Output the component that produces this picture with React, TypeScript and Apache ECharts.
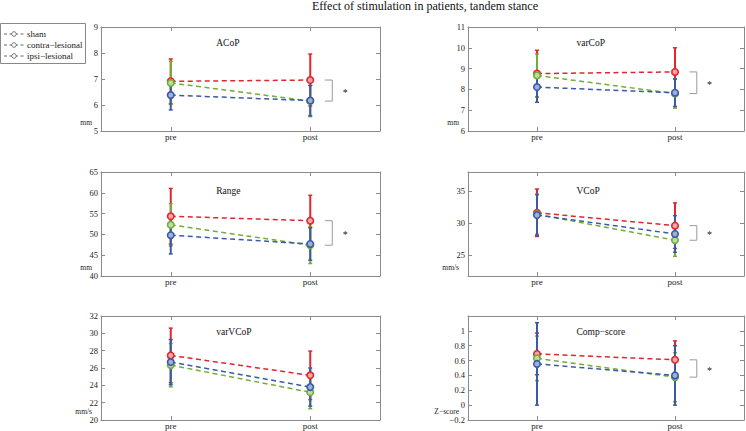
import React, { useEffect, useRef } from 'react';
import * as echarts from 'echarts';

const categories = ['pre', 'post'];
const panelTitles = ['ACoP', 'varCoP', 'Range', 'VCoP', 'varVCoP', 'Comp\u2212score'];
const unitLabels = ['mm', 'mm', 'mm', 'mm/s', 'mm/s', 'Z\u2212score'];
const yMins = [5, 6, 40, 21.8, 20, -0.2];
const yMaxs = [9, 11, 65, 38, 32, 1.2];
const yTicks = [
  [5, 6, 7, 8, 9],
  [6, 7, 8, 9, 10, 11],
  [40, 45, 50, 55, 60, 65],
  [25, 30, 35],
  [20, 22, 24, 26, 28, 30, 32],
  [-0.2, 0, 0.2, 0.4, 0.6, 0.8, 1],
];
const groupNames = ['sham', 'contra\u2212lesional', 'ipsi\u2212lesional'];

// means per panel: [pre, post]
const shamPre = [6.91, 8.76, 54.35, 31.65, 27.45, 0.69];
const shamPost = [6.96, 8.84, 53.3, 29.64, 25.15, 0.61];
const shamErrPre = [0.86, 1.12, 6.7, 3.7, 3.15, 0.28];
const shamErrPost = [1.0, 1.16, 6.1, 3.55, 2.8, 0.255];

const contraPre = [6.38, 8.11, 49.8, 31.3, 26.68, 0.555];
const contraPost = [6.17, 7.84, 47.7, 28.35, 23.8, 0.4];
const contraErrPre = [0.57, 0.73, 4.5, 3.2, 2.6, 0.555];
const contraErrPost = [0.58, 0.66, 3.9, 2.85, 2.2, 0.4];

const ipsiPre = [6.85, 8.67, 52.3, 31.4, 26.33, 0.63];
const ipsiPost = [6.15, 7.8, 47.4, 27.37, 23.2, 0.377];
const ipsiErrPre = [0.83, 1.03, 5.1, 3.1, 2.5, 0.3];
const ipsiErrPost = [0.6, 0.7, 4.4, 2.5, 1.9, 0.33];

const significant = [true, true, true, true, false, true];

const FONT = '"Liberation Serif", "DejaVu Serif", "Times New Roman", serif';
const colLeft = [101, 468];
const colWidth = [279, 276];
const rowTop = [27, 172, 316];
const panelH = 104;
const titleOffsetY = [16, 18.5, 16];
const titleFracX = [0.413, 0.393];
const AXIS_COLOR = '#8a8a8a';

const groups = [
  { name: groupNames[0], color: '#e0262e', tint: '#f2a6a8', pre: shamPre, post: shamPost, ePre: shamErrPre, ePost: shamErrPost },
  { name: groupNames[2], color: '#72ad3a', tint: '#bcdca0', pre: ipsiPre, post: ipsiPost, ePre: ipsiErrPre, ePost: ipsiErrPost },
  { name: groupNames[1], color: '#3a5aa8', tint: '#9fb0d8', pre: contraPre, post: contraPost, ePre: contraErrPre, ePost: contraErrPost },
];

function fmt(v: number) {
  const s = String(Math.round(v * 1000) / 1000);
  return s.replace('-', '\u2212');
}

function buildOption() {
  const grid: any[] = [];
  const xAxis: any[] = [];
  const yAxis: any[] = [];
  const series: any[] = [];
  const graphic: any[] = [];

  for (let i = 0; i < 6; i++) {
    const col = i % 2;
    const row = Math.floor(i / 2);
    const left = colLeft[col];
    const top = rowTop[row];
    const width = colWidth[col];
    grid.push({ left, top, width, height: panelH, containLabel: false });

    const xBase = {
      type: 'category',
      data: categories,
      gridIndex: i,
      boundaryGap: true,
      axisLine: { show: true, onZero: false, lineStyle: { color: AXIS_COLOR, width: 1 } },
      axisTick: { show: true, inside: true, alignWithLabel: true, length: 4, lineStyle: { color: AXIS_COLOR } },
      splitLine: { show: false },
    };
    xAxis.push({
      ...xBase,
      position: 'bottom',
      axisLabel: { show: true, fontFamily: FONT, fontSize: 9, color: '#222', margin: 1 },
    });
    xAxis.push({ ...xBase, position: 'top', axisLabel: { show: false } });

    const yBase = {
      type: 'value',
      gridIndex: i,
      min: yMins[i],
      max: yMaxs[i],
      axisLine: { show: true, onZero: false, lineStyle: { color: AXIS_COLOR, width: 1 } },
      axisTick: { show: true, inside: true, length: 4, customValues: yTicks[i], lineStyle: { color: AXIS_COLOR } },
      splitLine: { show: false },
    };
    yAxis.push({
      ...yBase,
      position: 'left',
      axisLabel: { show: true, customValues: yTicks[i], formatter: (v: number) => fmt(v), fontFamily: FONT, fontSize: 8.5, color: '#222', margin: 3 },
    });
    yAxis.push({ ...yBase, position: 'right', axisLabel: { show: false } });

    groups.forEach((g) => {
      const means = [g.pre[i], g.post[i]];
      const errs = [g.ePre[i], g.ePost[i]];
      series.push({
        type: 'custom',
        name: g.name,
        xAxisIndex: 2 * i,
        yAxisIndex: 2 * i,
        data: categories.map((_, j) => [j, means[j] - errs[j], means[j] + errs[j]]),
        encode: { x: 0, y: [1, 2] },
        renderItem: (params: any, api: any) => {
          const x = api.value(0);
          const lo = api.coord([x, api.value(1)]);
          const hi = api.coord([x, api.value(2)]);
          const c = 2;
          return {
            type: 'group',
            children: [
              { type: 'line', shape: { x1: lo[0], y1: lo[1], x2: hi[0], y2: hi[1] }, style: { stroke: g.color, lineWidth: 2 } },
              { type: 'line', shape: { x1: lo[0] - c, y1: lo[1], x2: lo[0] + c, y2: lo[1] }, style: { stroke: g.color, lineWidth: 1.5 } },
              { type: 'line', shape: { x1: hi[0] - c, y1: hi[1], x2: hi[0] + c, y2: hi[1] }, style: { stroke: g.color, lineWidth: 1.5 } },
            ],
          };
        },
        silent: true,
      });
      series.push({
        type: 'line',
        name: g.name,
        xAxisIndex: 2 * i,
        yAxisIndex: 2 * i,
        data: means,
        symbol: 'circle',
        symbolSize: 6.5,
        lineStyle: { color: g.color, width: 1.5, type: [5, 3.5] },
        itemStyle: { color: g.tint, borderColor: g.color, borderWidth: 1.6 },
        silent: true,
      });
    });

    if (significant[i]) {
      const topV = shamPost[i];
      const botV = Math.min(contraPost[i], ipsiPost[i]);
      series.push({
        type: 'custom',
        name: 'sig',
        xAxisIndex: 2 * i,
        yAxisIndex: 2 * i,
        data: [[1, topV, botV]],
        encode: { x: 0, y: [1, 2] },
        renderItem: (params: any, api: any) => {
          const p1 = api.coord([1, api.value(1)]);
          const p2 = api.coord([1, api.value(2)]);
          const band = api.size([1, 0])[0];
          const x0 = p1[0] + band * 0.105;
          const x1 = p1[0] + band * 0.158;
          const xs = p1[0] + band * 0.25;
          return {
            type: 'group',
            children: [
              {
                type: 'polyline',
                shape: { points: [[x0, p1[1]], [x1, p1[1]], [x1, p2[1]], [x0, p2[1]]] },
                style: { stroke: '#999', lineWidth: 1, fill: 'none' },
              },
              {
                type: 'text',
                x: xs,
                y: (p1[1] + p2[1]) / 2 + 2,
                style: { text: '*', fontFamily: FONT, fontSize: 10, fill: '#222', align: 'center', verticalAlign: 'middle' },
              },
            ],
          };
        },
        silent: true,
        z: 1,
      });
    }

    graphic.push({
      type: 'text',
      x: left + width * titleFracX[col],
      y: top + titleOffsetY[row],
      style: { text: panelTitles[i], fontFamily: FONT, fontSize: 9.5, fill: '#111', align: 'left', verticalAlign: 'middle' },
    });
    graphic.push({
      type: 'text',
      x: left - 9,
      y: top + panelH - 9,
      style: { text: unitLabels[i], fontFamily: FONT, fontSize: 7.5, fill: '#222', align: 'right', verticalAlign: 'middle' },
    });
  }

  graphic.push({
    type: 'text',
    x: 425,
    y: 6,
    style: { text: 'Effect of stimulation in patients, tandem stance', fontFamily: FONT, fontSize: 12, fill: '#111', align: 'center', verticalAlign: 'middle' },
  });

  const legendChildren: any[] = [
    { type: 'rect', shape: { x: 0.5, y: 23.5, width: 85, height: 40 }, style: { fill: '#fff', stroke: '#888', lineWidth: 1 } },
  ];
  const legendRows = [34, 45, 56];
  [groupNames[0], groupNames[1], groupNames[2]].forEach((n, k) => {
    const y = legendRows[k];
    legendChildren.push({ type: 'line', shape: { x1: 4, y1: y, x2: 24, y2: y }, style: { stroke: '#666', lineWidth: 1, lineDash: [3, 2.5] } });
    legendChildren.push({ type: 'circle', shape: { cx: 14, cy: y, r: 2.3 }, style: { stroke: '#666', fill: '#fff', lineWidth: 0.9 } });
    legendChildren.push({ type: 'text', x: 27, y, style: { text: n, fontFamily: FONT, fontSize: 9, fill: '#222', align: 'left', verticalAlign: 'middle' } });
  });
  graphic.push({ type: 'group', children: legendChildren, z: 10 });

  return {
    animation: false,
    backgroundColor: '#fff',
    grid,
    xAxis,
    yAxis,
    series,
    graphic,
  };
}

export default function App() {
  const ref = useRef<HTMLDivElement>(null);
  useEffect(() => {
    const chart = echarts.init(ref.current as HTMLDivElement, null, { renderer: 'svg' });
    chart.setOption(buildOption() as any);
    return () => chart.dispose();
  }, []);
  return <div ref={ref} style={{ position: 'fixed', left: 0, top: 0, width: 746, height: 431 }} />;
}
